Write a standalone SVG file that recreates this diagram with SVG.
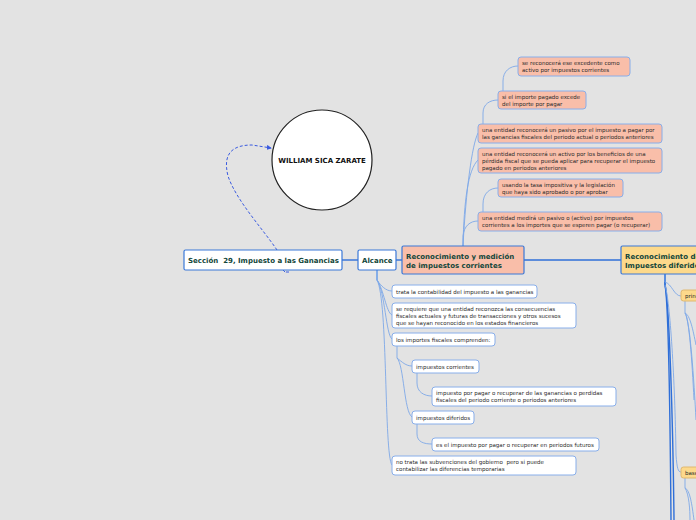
<svg xmlns="http://www.w3.org/2000/svg" width="696" height="520" viewBox="0 0 696 520">
<style>
.bg{fill:#e3e3e3}
.main{stroke:#3a78d8;stroke-width:1.2}
.sal{fill:#f9bea9}
.yel{fill:#fdd98b}
.wh{fill:#ffffff}
.sm{stroke:#88aeea;stroke-width:1}
.ht{font-family:"DejaVu Sans",Verdana,sans-serif;font-weight:bold;font-size:7px;fill:#12463a;white-space:pre}
.st{font-family:"DejaVu Sans",Verdana,sans-serif;font-size:5.5px;fill:#2a2a2a;white-space:pre}
.mc{fill:none;stroke:#2f6fd8;stroke-width:1.4}
.tc{fill:none;stroke:#7ea8e8;stroke-width:0.9}
.dash{fill:none;stroke:#3a5be0;stroke-width:1;stroke-dasharray:3 2}
</style>
<defs>
<marker id="arr" viewBox="0 0 6 6" refX="5" refY="3" markerWidth="5" markerHeight="5" orient="auto">
<path d="M0,0 L6,3 L0,6 z" fill="#3a5be0"/>
</marker>
</defs>
<rect class="bg" x="0" y="0" width="696" height="520"/>
<g id="connectors">
<path class="mc" d="M342,260 L358,260"/>
<path class="mc" d="M396,260 L402,260"/>
<path class="mc" d="M524,260 L621,260"/>
<path class="dash" d="M277,250 C262,228 236,200 228,176 C222,152 234,145 252,145 L271,148" marker-end="url(#arr)"/>
<path class="dash" d="M283,270 L286,273 M286,272 L290,272"/>
<path class="tc" d="M463,246 L463,236 C464,226 470,221 478,221"/>
<path class="tc" d="M463,246 C464,200 468,170 478,160"/>
<path class="tc" d="M463,246 C466,190 472,145 478,133"/>
<path class="tc" d="M483,212 L483,204 C483,193 490,188 498,188"/>
<path class="tc" d="M483,124 L483,113 C483,104 490,100 498,100"/>
<path class="tc" d="M503,91 L503,81 C503,71 510,66 518,66"/>
<path class="tc" d="M377,270 L377,280 C381,286 386,291 392,291"/>
<path class="tc" d="M377,270 L377,280 C384,290 386,312 392,315"/>
<path class="tc" d="M377,270 L377,280 C385,292 386,335 392,339"/>
<path class="tc" d="M377,270 L377,280 C388,300 384,455 392,465"/>
<path class="tc" d="M397,346 L397,358 C402,362 406,366 412,366"/>
<path class="tc" d="M397,358 C404,365 404,412 412,417"/>
<path class="tc" d="M417,373 L417,383 C417,392 424,396 432,396"/>
<path class="tc" d="M417,424 L417,434 C417,442 424,444 432,444"/>
<path class="mc" d="M665,274 L665,285 C668,300 670,400 671,520"/>
<path class="mc" d="M665,274 L665,285 C669,300 673,420 674,520"/>
<path class="tc" d="M665,274 L665,282 C672,284 674,296 681,296"/>
<path class="tc" d="M665,285 C670,300 675,380 676,455 C677,468 678,472 681,472"/>
<path class="tc" d="M685,301 L685,313 C690,315 693,330 696,345"/>
<path class="tc" d="M685,313 C689,318 692,360 694,400"/>
<path class="tc" d="M685,313 C690,320 694,380 696,420"/>
<path class="tc" d="M685,478 L685,488 C690,490 692,505 694,520"/>
<path class="tc" d="M685,488 C689,494 690,510 690,520"/>
</g>
<g id="author">
<circle cx="322" cy="160" r="50" fill="#ffffff" stroke="#222222" stroke-width="1.2"/>
<text class="ht" x="322" y="162.5" text-anchor="middle" style="fill:#111111">WILLIAM SICA ZARATE</text>
</g>
<g id="seccion">
<rect class="wh main" x="184" y="250" width="158" height="20" rx="1.5"/>
<text class="ht" x="188" y="262.5" xml:space="preserve">Sección  29, Impuesto a las Ganancias</text>
</g>
<g id="alcance">
<rect class="wh main" x="358" y="250" width="38" height="20" rx="1.5"/>
<text class="ht" x="362" y="262.5">Alcance</text>
</g>
<g id="corrientes">
<rect class="sal main" x="402" y="246" width="122" height="28" rx="1.5"/>
<text class="ht" x="406" y="258.5">Reconocimiento y medición</text>
<text class="ht" x="406" y="267.5">de impuestos corrientes</text>
</g>
<g id="diferidos">
<rect class="yel main" x="621" y="246" width="90" height="28" rx="1.5"/>
<text class="ht" x="625" y="258.5">Reconocimiento de</text>
<text class="ht" x="625" y="267.5">Impuestos diferidos</text>
</g>
<g id="n1">
<rect class="sal sm" x="518" y="57" width="112" height="19" rx="3"/>
<text class="st" x="522" y="65">se reconocerá ese excedente como</text>
<text class="st" x="522" y="72">activo por impuestos corrientes</text>
</g>
<g id="n2">
<rect class="sal sm" x="498" y="91" width="88" height="18" rx="3"/>
<text class="st" x="502" y="99">si el importe pagado excede</text>
<text class="st" x="502" y="106">del importe por pagar</text>
</g>
<g id="n3">
<rect class="sal sm" x="478" y="124" width="184" height="19" rx="3"/>
<text class="st" x="482" y="132">una entidad reconocerá un pasivo por el impuesto a pagar por</text>
<text class="st" x="482" y="139">las ganancias fiscales del periodo actual o periodos anteriores</text>
</g>
<g id="n4">
<rect class="sal sm" x="478" y="148" width="184" height="25" rx="3"/>
<text class="st" x="482" y="156">una entidad reconocerá un activo por los beneficios de una</text>
<text class="st" x="482" y="163">pérdida fiscal que se pueda aplicar para recuperar el impuesto</text>
<text class="st" x="482" y="170">pagado en periodos anteriores</text>
</g>
<g id="n5">
<rect class="sal sm" x="498" y="179" width="125" height="18" rx="3"/>
<text class="st" x="502" y="187">usando la tasa impositiva y la legislación</text>
<text class="st" x="502" y="194">que haya sido aprobado o por aprobar</text>
</g>
<g id="n6">
<rect class="sal sm" x="478" y="212" width="184" height="19" rx="3"/>
<text class="st" x="482" y="220">una entidad medirá un pasivo o (activo) por impuestos</text>
<text class="st" x="482" y="227">corrientes a los importes que se esperen pagar (o recuperar)</text>
</g>
<g id="a1">
<rect class="wh sm" x="392" y="285" width="145" height="13" rx="3"/>
<text class="st" x="396" y="293.5">trata la contabilidad del impuesto a las ganancias</text>
</g>
<g id="a2">
<rect class="wh sm" x="392" y="303" width="184" height="25" rx="3"/>
<text class="st" x="396" y="311">se requiere que una entidad reconozca las consecuencias</text>
<text class="st" x="396" y="318">fiscales actuales y futuras de transacciones y otros sucesos</text>
<text class="st" x="396" y="325">que se hayan reconocido en los estados financieros</text>
</g>
<g id="a3">
<rect class="wh sm" x="392" y="333" width="103" height="13" rx="3"/>
<text class="st" x="396" y="341.5">los importes fiscales comprenden:</text>
</g>
<g id="a4">
<rect class="wh sm" x="412" y="360" width="67" height="13" rx="3"/>
<text class="st" x="416" y="368.5">impuestos corrientes</text>
</g>
<g id="a5">
<rect class="wh sm" x="432" y="387" width="184" height="19" rx="3"/>
<text class="st" x="436" y="395">impuesto por pagar o recuperar de las ganancias o perdidas</text>
<text class="st" x="436" y="402">fiscales del periodo corriente o periodos anteriores</text>
</g>
<g id="a6">
<rect class="wh sm" x="412" y="411" width="62" height="13" rx="3"/>
<text class="st" x="416" y="419.5">impuestos diferidos</text>
</g>
<g id="a7">
<rect class="wh sm" x="432" y="438" width="167" height="13" rx="3"/>
<text class="st" x="436" y="446.5">es el impuesto por pagar o recuperar en periodos futuros</text>
</g>
<g id="a8">
<rect class="wh sm" x="392" y="456" width="184" height="19" rx="3"/>
<text class="st" x="396" y="464" xml:space="preserve">no trata las subvenciones del gobierno  pero si puede</text>
<text class="st" x="396" y="471">contabilizar las diferencias temporarias</text>
</g>
<g id="d1">
<rect class="yel sm" x="681" y="290" width="60" height="11" rx="2.5" style="stroke:#e0b870"/>
<text class="st" x="685" y="297.5">principios</text>
</g>
<g id="d2">
<rect class="yel sm" x="681" y="467" width="60" height="11" rx="2.5" style="stroke:#e0b870"/>
<text class="st" x="685" y="474.5">bases</text>
</g>
</svg>
